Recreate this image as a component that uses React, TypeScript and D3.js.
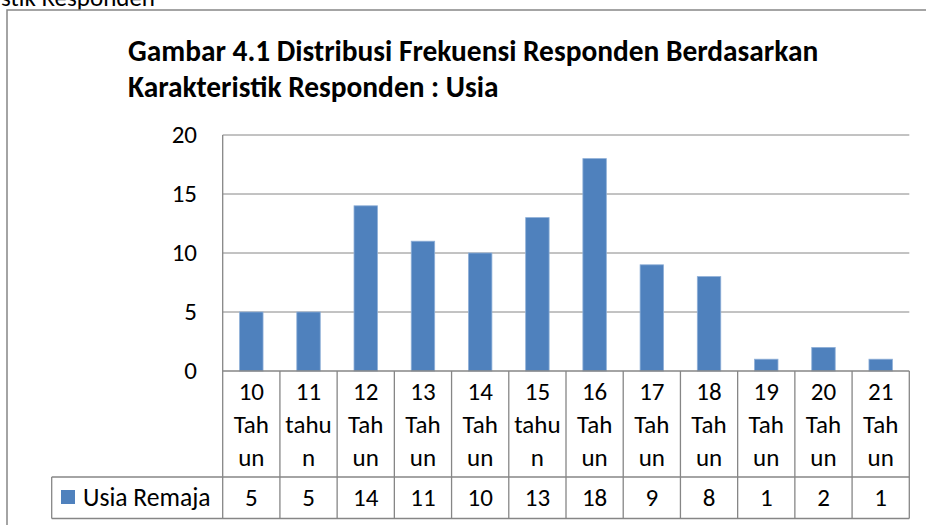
import React from "react";
import * as d3 from "d3";

const categories = [
  "10\nTah\nun",
  "11\ntahu\nn",
  "12\nTah\nun",
  "13\nTah\nun",
  "14\nTah\nun",
  "15\ntahu\nn",
  "16\nTah\nun",
  "17\nTah\nun",
  "18\nTah\nun",
  "19\nTah\nun",
  "20\nTah\nun",
  "21\nTah\nun",
];
const seriesName = "Usia Remaja";
const values = [5, 5, 14, 11, 10, 13, 18, 9, 8, 1, 2, 1];
const yTicks = [0, 5, 10, 15, 20];
const titleLines = [
  "Gambar 4.1 Distribusi Frekuensi Responden Berdasarkan",
  "Karakteristik Responden : Usia",
];
const pageText = "Karakteristik Responden";

const FONT = "Carlito, Calibri, Lato, sans-serif";
const GRID = "#868686";
const BAR = "#4F81BD";

export default function App() {
  const W = 926;
  const H = 525;
  const left = 222.7;
  const right = 909.3;
  const yZero = 371;
  const yTop = 135;
  const tableMid = 477;
  const tableBottom = 518.5;
  const legendLeft = 51.7;
  const FS = 25;

  const x = d3
    .scaleBand<string>()
    .domain(categories)
    .range([left, right])
    .paddingInner(0)
    .paddingOuter(0);
  const y = d3.scaleLinear().domain([0, 20]).range([yZero, yTop]);
  const bw = x.bandwidth();
  const barW = bw * 0.41;

  return (
    <svg
      width={W}
      height={H}
      style={{ position: "absolute", left: 0, top: 0, background: "#fff" }}
      fontFamily={FONT}
    >
      <rect x={0} y={0} width={W} height={H} fill="#fff" />
      <text x={155} y={6} fontSize={FS} textAnchor="end" fill="#000">
        {pageText}
      </text>
      {/* chart frame */}
      <rect
        x={7}
        y={10}
        width={W + 20}
        height={H + 20}
        fill="#fff"
        stroke={GRID}
        strokeWidth={1.5}
      />
      {/* title */}
      {titleLines.map((t, i) => (
        <text
          key={i}
          x={128}
          y={61 + i * 36}
          fontSize={29.4}
          fontWeight="bold"
          fill="#000"
        >
          {t}
        </text>
      ))}
      {/* gridlines */}
      {yTicks
        .filter((t) => t > 0)
        .map((t) => (
          <line
            key={t}
            x1={left}
            x2={right}
            y1={y(t)}
            y2={y(t)}
            stroke={GRID}
            strokeWidth={1}
          />
        ))}
      {/* y tick labels */}
      {yTicks.map((t) => (
        <text
          key={t}
          x={197}
          y={y(t) + 8}
          fontSize={FS}
          textAnchor="end"
          fill="#000"
        >
          {t}
        </text>
      ))}
      {/* bars */}
      {values.map((v, i) => (
        <rect
          key={i}
          x={(x(categories[i]) as number) + (bw - barW) / 2}
          y={y(v)}
          width={barW}
          height={yZero - y(v)}
          fill={BAR}
          stroke="#8FB0D8"
          strokeWidth={0.8}
        />
      ))}
      {/* table lines */}
      <line x1={left} x2={left} y1={yTop} y2={tableBottom} stroke={GRID} strokeWidth={1.3} />
      <line x1={left} x2={right} y1={yZero} y2={yZero} stroke={GRID} strokeWidth={1.3} />
      <line x1={legendLeft} x2={right} y1={tableMid} y2={tableMid} stroke={GRID} strokeWidth={1.3} />
      <line x1={legendLeft} x2={right} y1={tableBottom} y2={tableBottom} stroke={GRID} strokeWidth={1.3} />
      <line x1={legendLeft} x2={legendLeft} y1={tableMid} y2={tableBottom} stroke={GRID} strokeWidth={1.3} />
      {categories.map((c) => (
        <line
          key={c}
          x1={(x(c) as number) + bw}
          x2={(x(c) as number) + bw}
          y1={yZero}
          y2={tableBottom}
          stroke={GRID}
          strokeWidth={1.3}
        />
      ))}
      {/* category labels */}
      {categories.map((c) => {
        const cx = (x(c) as number) + bw / 2;
        return c.split("\n").map((ln, j) => (
          <text
            key={c + j}
            x={cx}
            y={400 + j * 33}
            fontSize={FS}
            textAnchor="middle"
            fill="#000"
          >
            {ln}
          </text>
        ));
      })}
      {/* values row */}
      {values.map((v, i) => (
        <text
          key={i}
          x={(x(categories[i]) as number) + bw / 2}
          y={506}
          fontSize={FS}
          textAnchor="middle"
          fill="#000"
        >
          {v}
        </text>
      ))}
      {/* legend */}
      <rect x={61} y={490} width={14} height={14} fill={BAR} />
      <text x={83} y={506} fontSize={25.6} fill="#000">
        {seriesName}
      </text>
    </svg>
  );
}
